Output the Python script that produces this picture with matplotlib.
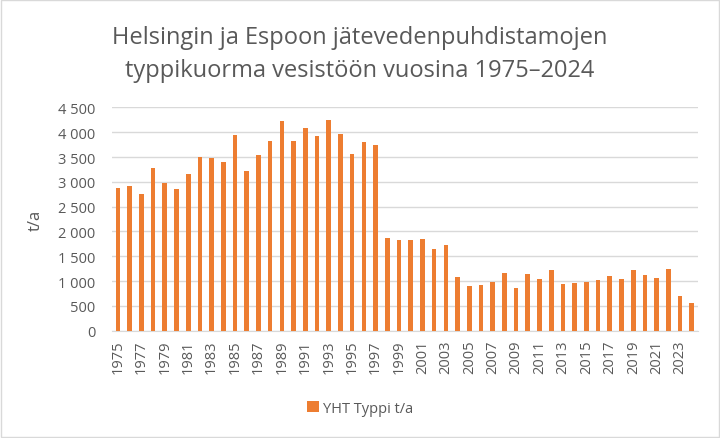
import matplotlib
matplotlib.use("Agg")
import matplotlib.pyplot as plt
from matplotlib.ticker import FuncFormatter, MultipleLocator

plt.rcParams['font.family'] = ['Open Sans', 'DejaVu Sans']

title = 'Helsingin ja Espoon jätevedenpuhdistamojen\ntyppikuorma vesistöön vuosina 1975–2024'
series_name = 'YHT Typpi t/a'
years = list(range(1975, 2025))
typpi = [2875, 2910, 2765, 3270, 2985, 2855, 3155, 3500, 3485, 3410,
         3945, 3215, 3540, 3815, 4220, 3815, 4080, 3930, 4250, 3960,
         3555, 3800, 3740, 1865, 1820, 1820, 1845, 1650, 1725, 1075,
         900, 920, 980, 1155, 860, 1140, 1035, 1215, 935, 955,
         975, 1015, 1110, 1035, 1230, 1120, 1055, 1235, 690, 565]

grey = '#595959'
orange = '#ED7D31'

fig = plt.figure(figsize=(7.2, 4.39), dpi=100)
ax = fig.add_axes([0.1556, 0.2444, 0.8134, 0.5086])

x = range(len(years))
ax.bar(x, typpi, width=0.4, color=orange, label=series_name, zorder=3)

ax.set_xlim(-0.5, len(years) - 0.5)
ax.set_ylim(0, 4500)
ax.yaxis.set_major_locator(MultipleLocator(500))
ax.yaxis.set_major_formatter(FuncFormatter(lambda v, p: '{:,.0f}'.format(v).replace(',', ' ')))
ax.grid(axis='y', color='#d9d9d9', linewidth=1, zorder=0)

ax.set_xticks(list(x)[::2])
ax.set_xticklabels([str(y) for y in years[::2]], rotation=90)
ax.tick_params(axis='both', length=0, labelsize=10.5, colors=grey)
ax.tick_params(axis='y', pad=12)
ax.tick_params(axis='x', pad=6)
for s in ['top', 'right', 'left']:
    ax.spines[s].set_visible(False)
ax.spines['bottom'].set_color('#d9d9d9')

ax.set_ylabel('t/a', fontsize=12, color=grey, labelpad=10)
fig.text(0.5, 0.875, title, fontsize=17, color=grey, ha='center', va='center',
         linespacing=1.5)

fig.legend(loc='center', bbox_to_anchor=(0.5, 0.068), frameon=False,
           fontsize=10.5, labelcolor=grey, handlelength=0.8, handleheight=0.8,
           handletextpad=0.3)

border = plt.Rectangle((0.002, 0.003), 0.996, 0.994, transform=fig.transFigure,
                       fill=False, edgecolor='#d9d9d9', linewidth=1)
fig.patches.append(border)

fig.savefig('out.png', dpi=100)
